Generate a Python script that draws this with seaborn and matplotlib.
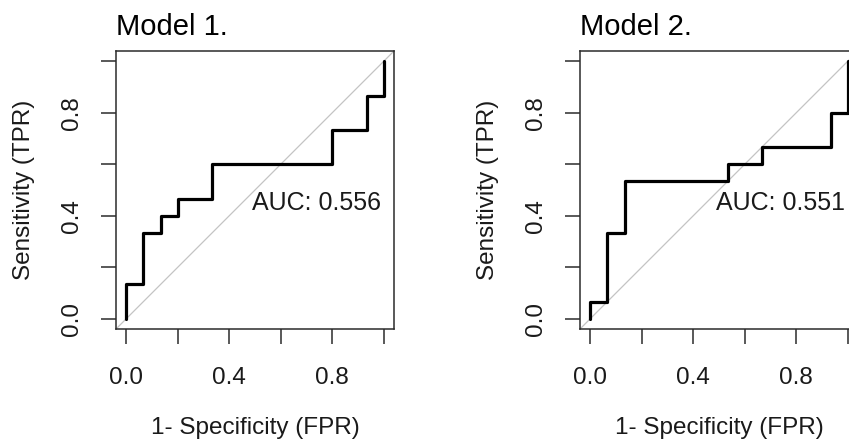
import matplotlib
matplotlib.use("Agg")
import matplotlib.pyplot as plt
import seaborn as sns
import pandas as pd

# ---- data ----
titles = ["Model 1.", "Model 2."]
auc_labels = ["AUC: 0.556", "AUC: 0.551"]

fpr_model1 = [0.0, 0.0, 0.0667, 0.0667, 0.1333, 0.1333, 0.2, 0.2, 0.3333, 0.3333,
              0.8, 0.8, 0.9333, 0.9333, 1.0, 1.0]
tpr_model1 = [0.0, 0.1333, 0.1333, 0.3333, 0.3333, 0.4, 0.4, 0.4667, 0.4667, 0.6,
              0.6, 0.7333, 0.7333, 0.8667, 0.8667, 1.0]

fpr_model2 = [0.0, 0.0, 0.0667, 0.0667, 0.1333, 0.1333, 0.5333, 0.5333, 0.6667, 0.6667,
              0.9333, 0.9333, 1.0, 1.0]
tpr_model2 = [0.0, 0.0667, 0.0667, 0.3333, 0.3333, 0.5333, 0.5333, 0.6, 0.6, 0.6667,
              0.6667, 0.8, 0.8, 1.0]

tick_values = [0.0, 0.2, 0.4, 0.6, 0.8, 1.0]
tick_labels = ["0.0", "", "0.4", "", "0.8", ""]
xlabel = "1- Specificity (FPR)"
ylabel = "Sensitivity (TPR)"

# ---- style ----
sns.set_style("white")
plt.rcParams["font.family"] = ["Liberation Sans", "DejaVu Sans"]

W, H = 849, 440
fig = plt.figure(figsize=(W / 100, H / 100), dpi=100)

box = 278
bottom_px = 329
lefts_px = [116, 580]

curves = [(fpr_model1, tpr_model1), (fpr_model2, tpr_model2)]
txt_color = "#1a1a1a"
frame_color = "#2b2b2b"

for i, (fx, fy) in enumerate(curves):
    ax = fig.add_axes([lefts_px[i] / W, (H - bottom_px) / H, box / W, box / H])
    df = pd.DataFrame({"fpr": fx, "tpr": fy})
    ax.axline((0, 0), (1, 1), color="#c4c4c4", lw=0.9, zorder=1)
    sns.lineplot(data=df, x="fpr", y="tpr", sort=False, estimator=None,
                 color="black", lw=2.3, ax=ax, zorder=3)
    ax.set_xlim(-0.04, 1.04)
    ax.set_ylim(-0.04, 1.04)

    ax.set_xticks(tick_values)
    ax.set_xticklabels(tick_labels)
    ax.set_yticks(tick_values)
    ax.set_yticklabels(tick_labels, rotation=90)
    ax.tick_params(axis="both", direction="out", length=10.8, width=1.1,
                   color=frame_color, labelsize=17.5, labelcolor=txt_color,
                   bottom=True, left=True, top=False, right=False)
    ax.tick_params(axis="x", pad=24.5)
    ax.tick_params(axis="y", pad=21)
    plt.setp(ax.get_xticklabels(), va="center")
    plt.setp(ax.get_yticklabels(), ha="center", va="center")

    for sp in ax.spines.values():
        sp.set_visible(True)
        sp.set_color(frame_color)
        sp.set_linewidth(1.1)

    ax.set_xlabel(xlabel, fontsize=17.5, color=txt_color, va="center")
    ax.xaxis.set_label_coords(0.5, -99 / box)
    ax.set_ylabel(ylabel, fontsize=17.5, color=txt_color, va="center")
    ax.yaxis.set_label_coords(-92 / box, 0.5)

    ax.set_title(titles[i], loc="left", fontsize=21, color="black", pad=11.5)

    ax.text(0.49, 0.45, auc_labels[i], fontsize=18, color=txt_color,
            ha="left", va="center", zorder=4)

fig.savefig("out.png", dpi=100)
